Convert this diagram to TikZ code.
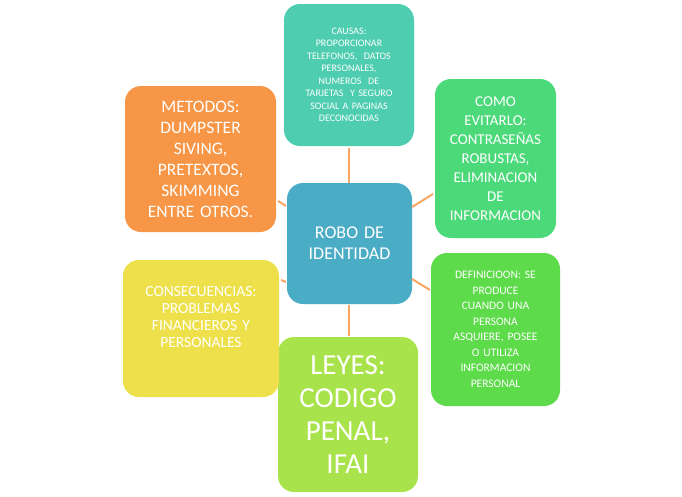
\documentclass[tikz,border=0pt]{standalone}
\usepackage{fontspec}
\setmainfont{Carlito}
\definecolor{cblue}{HTML}{4BACC6}
\definecolor{cteal}{HTML}{4ECDB0}
\definecolor{cgreen1}{HTML}{4CD97A}
\definecolor{cgreen2}{HTML}{5EDB4A}
\definecolor{clime}{HTML}{A9E34B}
\definecolor{cyellow}{HTML}{EEE04B}
\definecolor{corange}{HTML}{F79646}
\begin{document}
\begin{tikzpicture}[x=1pt,y=-1pt,
  box/.style={rounded corners=16pt,text=white,align=center,inner sep=2pt},
  link/.style={draw=corange!85,line width=2pt}]
\useasboundingbox (0,0) rectangle (682,496);
\newcommand{\bx}[6]{\fill[#5,rounded corners=16pt] (#1,#2) rectangle (#3,#4);
  \node[box,text width=#3-#1-8] (#6) at ({(#1+#3)/2},{(#2+#4)/2}) {};}
\fill[cblue,rounded corners=16pt] (287,183) rectangle (412,304);
\node[box,text width=115pt,font=\fontsize{18}{21}\selectfont] (c) at (349.5,243.5) {ROBO DE\\IDENTIDAD};
\fill[cteal,rounded corners=16pt] (284,4) rectangle (414,146);
\node[box,text width=125pt,font=\fontsize{10}{12.5}\selectfont] (t) at (349,75) {CAUSAS:\\PROPORCIONAR\\TELEFONOS,\ \ DATOS\\PERSONALES,\\NUMEROS\ \ DE\\TARJETAS\ \ Y SEGURO\\SOCIAL A PAGINAS\\DECONOCIDAS};
\fill[cgreen1,rounded corners=16pt] (435,79) rectangle (556,238);
\node[box,text width=120pt,font=\fontsize{15}{19}\selectfont] (r1) at (495.5,158.5) {COMO\\EVITARLO:\\CONTRASEÑAS\\ROBUSTAS,\\ELIMINACION\\DE\\INFORMACION};
\fill[cgreen2,rounded corners=16pt] (431,253) rectangle (560,406);
\node[box,text width=125pt,font=\fontsize{11.5}{15.5}\selectfont] (r2) at (495.5,329.5) {DEFINICIOON: SE\\PRODUCE\\CUANDO UNA\\PERSONA\\ASQUIERE, POSEE\\O UTILIZA\\INFORMACION\\PERSONAL};
\fill[clime,rounded corners=16pt] (278,337) rectangle (418,492);
\node[box,text width=135pt,font=\fontsize{29}{33}\selectfont] (b) at (348,414.5) {LEYES:\\CODIGO\\PENAL,\\IFAI};
\fill[cyellow,rounded corners=16pt] (123,260) rectangle (279,397);
\node[box,text width=150pt,font=\fontsize{15.5}{17}\selectfont] (l2) at (201,317) {CONSECUENCIAS:\\PROBLEMAS\\FINANCIEROS Y\\PERSONALES};
\fill[corange,rounded corners=16pt] (125,86) rectangle (276,232);
\node[box,text width=145pt,font=\fontsize{17.5}{21}\selectfont] (l1) at (200.5,159) {METODOS:\\DUMPSTER\\SIVING,\\PRETEXTOS,\\SKIMMING\\ENTRE OTROS.};
\draw[link] (349,183) -- (349,148);
\draw[link] (412,207) -- (433,194);
\draw[link] (412,279) -- (430,290);
\draw[link] (349,305) -- (349,336);
\draw[link] (286,282) -- (281,280);
\draw[link] (286,206) -- (278,201);
\end{tikzpicture}
\end{document}
